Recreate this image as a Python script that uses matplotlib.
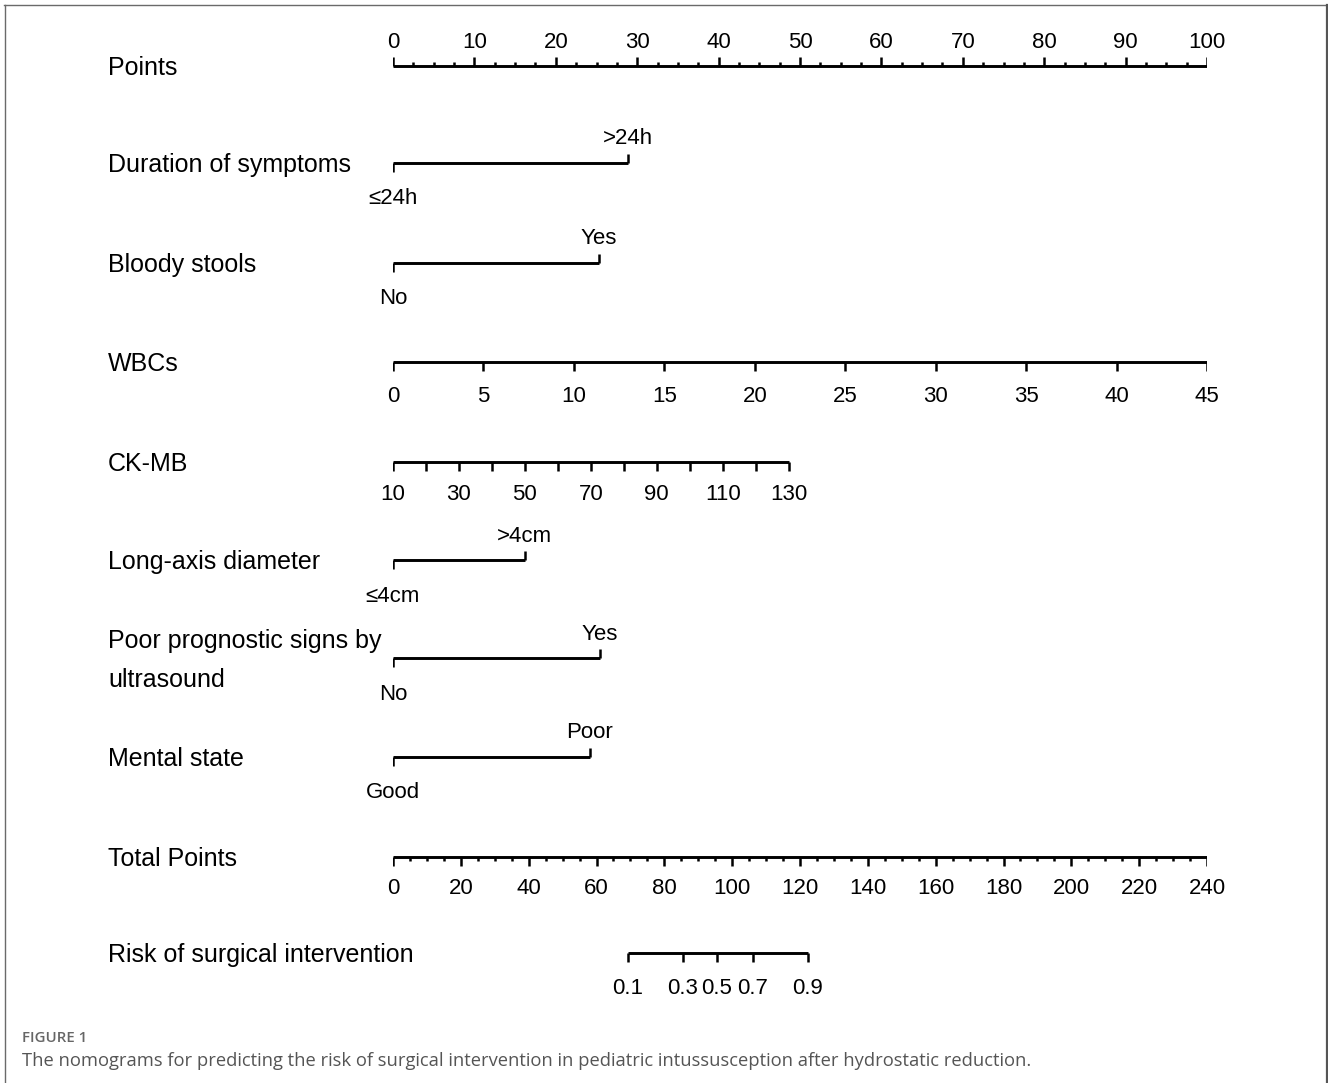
import matplotlib
matplotlib.use("Agg")
import matplotlib.pyplot as plt
from matplotlib.lines import Line2D

# ---- nomogram content ----
points_max = 100
points_major = list(range(0, 101, 10))
points_minor_step = 2.5

# binary predictors: (label, low level, high level, points for high level)
binary_names = ["Duration of symptoms", "Bloody stools", "Long-axis diameter",
                "Poor prognostic signs by\nultrasound", "Mental state"]
binary_low = ["≤24h", "No", "≤4cm", "No", "Good"]
binary_high = [">24h", "Yes", ">4cm", "Yes", "Poor"]
binary_points = [28.9, 25.3, 16.2, 25.4, 24.2]

# continuous predictors
wbc_ticks = list(range(0, 46, 5))
wbc_points_max = 100.0
ckmb_ticks = list(range(10, 131, 10))
ckmb_labels = list(range(10, 131, 20))
ckmb_points_max = 48.6

# total points and risk
total_max = 240
total_major = list(range(0, 241, 20))
total_minor_step = 5
risk_labels = ["0.1", "0.3", "0.5", "0.7", "0.9"]
risk_total_points = [69.3, 85.5, 95.5, 106.0, 122.3]

# ---- row positions (pixels from top) ----
W, H = 1328, 1083
X0, X1 = 393, 1207
LABEL_X = 108
row_y = {
    "Points": 66, "Duration of symptoms": 163, "Bloody stools": 263,
    "WBCs": 362, "CK-MB": 462, "Long-axis diameter": 560,
    "Poor prognostic signs by\nultrasound": 658, "Mental state": 757,
    "Total Points": 857, "Risk of surgical intervention": 953,
}

plt.rcParams["font.family"] = ["Liberation Sans", "DejaVu Sans"]
fig = plt.figure(figsize=(W / 100, H / 100), dpi=100)
fig.patch.set_facecolor("white")

# axes whose x unit is "points" (0..100) and y unit is pixels from top
ax = fig.add_axes([X0 / W, 0, (X1 - X0) / W, 1])
ax.set_xlim(0, points_max)
ax.set_ylim(H, 0)
ax.axis("off")

px = (X1 - X0) / points_max  # pixels per point
LW = 2.1
TLW = 1.8
LAB_FS = 18
TICK_FS = 16


def to_x(pixels):
    return (pixels - X0) / px


def hline(y, a, b):
    ax.plot([a, b], [y, y], color="black", lw=LW, solid_capstyle="butt")


def tick(x, y, length):
    # positive length -> downward, negative -> upward
    ax.plot([x, x], [y, y + length], color="black", lw=TLW, solid_capstyle="butt")


def row_label(name):
    y = row_y[name]
    if "\n" in name:
        first, second = name.split("\n")
        ax.text(to_x(LABEL_X), y - 17, first, fontsize=LAB_FS, va="center", ha="left")
        ax.text(to_x(LABEL_X), y + 22, second, fontsize=LAB_FS, va="center", ha="left")
    else:
        ax.text(to_x(LABEL_X), y + 2, name, fontsize=LAB_FS, va="center", ha="left")


# Points scale
y = row_y["Points"]
row_label("Points")
hline(y, 0, points_max)
n_minor = int(points_max / points_minor_step)
for i in range(n_minor + 1):
    v = i * points_minor_step
    major = abs(v % 10) < 1e-9
    tick(v, y, -9 if major else -4)
for v in points_major:
    ax.text(v, y - 24, str(v), fontsize=TICK_FS, ha="center", va="center")

# binary predictors
for name, lo, hi, pts in zip(binary_names, binary_low, binary_high, binary_points):
    y = row_y[name]
    row_label(name)
    hline(y, 0, pts)
    tick(0, y, 9)
    tick(pts, y, -9)
    ax.text(0, y + 36, lo, fontsize=TICK_FS, ha="center", va="center")
    ax.text(pts, y - 24, hi, fontsize=TICK_FS, ha="center", va="center")

# WBCs
y = row_y["WBCs"]
row_label("WBCs")
wbc_pos = [(v - wbc_ticks[0]) / (wbc_ticks[-1] - wbc_ticks[0]) * wbc_points_max for v in wbc_ticks]
hline(y, wbc_pos[0], wbc_pos[-1])
for v, p in zip(wbc_ticks, wbc_pos):
    tick(p, y, 9)
    ax.text(p, y + 35, str(v), fontsize=TICK_FS, ha="center", va="center")

# CK-MB
y = row_y["CK-MB"]
row_label("CK-MB")
lo_ck, hi_ck = ckmb_ticks[0], ckmb_ticks[-1]
ck_pos = [(v - lo_ck) / (hi_ck - lo_ck) * ckmb_points_max for v in ckmb_ticks]
hline(y, ck_pos[0], ck_pos[-1])
for v, p in zip(ckmb_ticks, ck_pos):
    tick(p, y, 9)
    if v in ckmb_labels:
        ax.text(p, y + 33, str(v), fontsize=TICK_FS, ha="center", va="center")

# Total points
y = row_y["Total Points"]
row_label("Total Points")
scale = points_max / total_max
hline(y, 0, total_max * scale)
for i in range(int(total_max / total_minor_step) + 1):
    v = i * total_minor_step
    major = v % 20 == 0
    tick(v * scale, y, 9 if major else 4)
for v in total_major:
    ax.text(v * scale, y + 32, str(v), fontsize=TICK_FS, ha="center", va="center")

# Risk
y = row_y["Risk of surgical intervention"]
row_label("Risk of surgical intervention")
rpos = [t * scale for t in risk_total_points]
hline(y, rpos[0], rpos[-1])
for lab, p in zip(risk_labels, rpos):
    tick(p, y, 9)
    ax.text(p, y + 36, lab, fontsize=TICK_FS, ha="center", va="center")

# frame and caption
frame_col = "#6a6a6a"
fig.add_artist(Line2D([4 / W, 1327 / W], [1 - 5 / H, 1 - 5 / H], color=frame_col, lw=1.0,
                      transform=fig.transFigure))
fig.add_artist(Line2D([4.5 / W, 4.5 / W], [1 - 5 / H, 0], color=frame_col, lw=1.0,
                      transform=fig.transFigure))
fig.add_artist(Line2D([1326.5 / W, 1326.5 / W], [1 - 5 / H, 0], color="#555555", lw=1.6,
                      transform=fig.transFigure))

fig.text(22 / W, 1 - 1038 / H, "FIGURE 1", fontsize=10.8, color="#666666",
         family=["Open Sans", "DejaVu Sans"], fontweight="semibold", va="center", ha="left")
fig.text(22 / W, 1 - 1061 / H,
         "The nomograms for predicting the risk of surgical intervention in pediatric "
         "intussusception after hydrostatic reduction.",
         fontsize=13.25, color="#555555", family=["Open Sans", "DejaVu Sans"],
         va="center", ha="left")

fig.savefig("out.png", dpi=100, facecolor="white")
